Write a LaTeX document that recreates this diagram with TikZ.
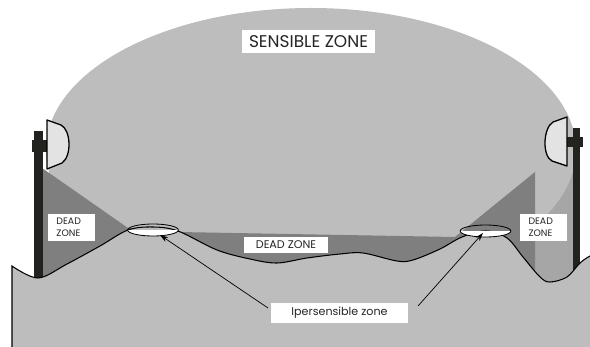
\documentclass[tikz,border=0pt]{standalone}
\usepackage{fontspec}
\setmainfont{Poppins}
\usepackage{tikz}
\usetikzlibrary{shapes.geometric, arrows.meta, positioning, calc}

\definecolor{zonegray}{HTML}{BDBDBD}
\definecolor{deadgray}{HTML}{7F7F7F}
\definecolor{bandgray}{HTML}{A6A6A6}
\definecolor{dishgray}{HTML}{E3E3E3}
\definecolor{polegray}{HTML}{22221E}

\begin{document}
\begin{tikzpicture}[x=0.03cm, y=-0.03cm,
  tag/.style={fill=white, inner sep=0pt, text=black!85},
  sidetag/.style={tag, minimum width=1.41cm, minimum height=0.81cm, text width=0.9cm, align=left, font=\fontsize{8}{10.5}\selectfont},
  pole/.style={fill=polegray},
  dish/.style={draw=black, fill=dishgray, line width=1.1pt, line join=round},
  spot/.style={draw=black, ellipse, inner sep=0pt, line width=0.7pt, minimum width=1.52cm, minimum height=0.36cm,
    path picture={\fill[white] (path picture bounding box.west) rectangle (path picture bounding box.south east);}},
  arr/.style={-{Stealth[length=7pt, width=4.5pt]}, line width=0.6pt},
]
\useasboundingbox (0,0) rectangle (590,347);

% Sensible zone
\fill[bandgray] (535,167) rectangle (573,300);
\fill[zonegray] (311,150) ellipse [x radius=265, y radius=142];

% Dead zones
\fill[deadgray] (42,168) -- (128,228) -- (178,232) -- (455,237) -- (535,172) -- (535,320) -- (42,320) -- cycle;

% Poles
\fill[pole] (34,131) rectangle (43,285);
\fill[pole] (32,140) rectangle (47,152);
\fill[pole] (573,128) rectangle (580,275);
\fill[pole] (567,137) rectangle (583,147);

% Ground
\draw[fill=zonegray, line width=0.9pt] (620,380) -- (12,380) -- plot[smooth, tension=0.55] coordinates {
  (12,266) (38,278) (67,264) (100,246) (128,230) (153,227) (178,231) (217,250) (250,259)
  (277,263) (307,258) (340,254) (363,253) (397,261) (413,260) (440,249) (462,237) (486,231)
  (507,238) (523,257) (540,277) (550,282) (567,277) (580,263) (590,256) (600,252)} -- (620,250);

% Antennas
\draw[dish] (47,120) -- (61,125) .. controls (71,130) and (72,156) .. (62,163) -- (47,169) -- cycle;
\draw[dish] (567,117) -- (553,122) .. controls (543,128) and (542,156) .. (552,161) -- (567,166) -- cycle;

% Spots on the hills
\node[spot] (spotL) at (153,230) {};
\node[spot] (spotR) at (485.5,231) {};

% Labels
\node[tag, minimum width=3.99cm, minimum height=0.69cm, font=\fontsize{14.5}{17}\selectfont] (sens) at (308.5,41.5) {SENSIBLE ZONE};
\node[tag, minimum width=2.52cm, minimum height=0.48cm, font=\fontsize{9.5}{11}\selectfont] (deadM) at (286,245) {DEAD ZONE};
\foreach \n/\x in {deadL/71.5, deadR/543.5} {
  \node[sidetag] (\n) at (\x,227.5) {DEAD\\ZONE};
}
\node[tag, minimum width=4.11cm, minimum height=0.6cm, font=\fontsize{9.5}{11}\selectfont] (iper) at (339.5,313) {Ipersensible zone};

% Arrows
\coordinate (tailL) at (268,308);
\coordinate (tipL) at (160,235);
\coordinate (tailR) at (418,306);
\coordinate (tipR) at (483,233);
\foreach \s in {L,R} {
  \draw[arr] (tail\s) -- (tip\s);
}
\end{tikzpicture}
\end{document}
